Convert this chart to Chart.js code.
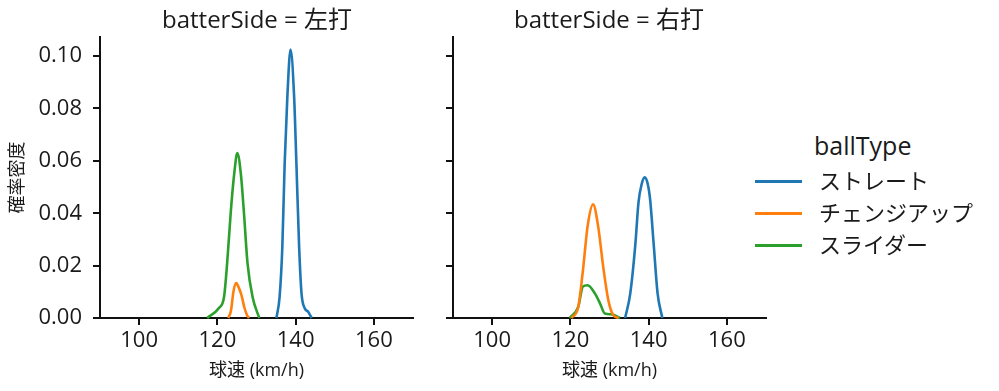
<html>
<head>
<title>batterSide KDE</title>
<style>
body { margin:0; background:#fff; font-family:"Open Sans", "Noto Sans CJK JP", sans-serif; color:#1a1a1a; }
#wrap { position:relative; width:999px; height:391px; overflow:hidden; }
canvas { position:absolute; top:0; }
.ttl { position:absolute; top:3px; width:340px; text-align:center; font-size:24px; line-height:32px; white-space:nowrap; }
.lg { position:absolute; font-size:22px; line-height:30px; white-space:nowrap; }
.sw { position:absolute; width:47px; height:3px; }
</style>
</head>
<body>
<script src="https://cdn.jsdelivr.net/npm/chart.js@4/dist/chart.umd.min.js"></script>

<div id="wrap">
  <canvas id="leftChart" width="430" height="391" style="left:0px"></canvas>
  <canvas id="rightChart" width="350" height="391" style="left:430px"></canvas>
  <div class="ttl" style="left:87px">batterSide = 左打</div>
  <div class="ttl" style="left:439px">batterSide = 右打</div>
  <div id="legend"></div>
</div>

<script type="text/javascript">
// values (x: km/h, y: density)
var pitchTypes = ["ストレート", "チェンジアップ", "スライダー"];
var colors = ["#1f77b4", "#ff7f0e", "#2ca02c"];
var xTicks = [100, 120, 140, 160];
var yTicks = [0, 0.02, 0.04, 0.06, 0.08, 0.10];

var leftStraightX = [135.1, 135.9, 136.6, 137.2, 137.9, 138.7, 139.6, 140.2, 140.9, 141.5, 142.3, 143.2, 144.1];
var leftStraightY = [0, 0.008, 0.027, 0.059, 0.085, 0.1025, 0.085, 0.059, 0.027, 0.0095, 0.0038, 0.0024, 0];
var leftChangeX = [122.8, 123.5, 124.1, 124.8, 125.5, 126.2, 126.9, 127.6, 128.1];
var leftChangeY = [0, 0.003, 0.010, 0.0133, 0.0115, 0.0085, 0.004, 0.001, 0];
var leftSliderX = [117.4, 120.4, 121.7, 122.5, 123.4, 124.3, 125.1, 126.0, 126.8, 127.7, 129.0, 130.7];
var leftSliderY = [0, 0.0038, 0.008, 0.021, 0.040, 0.055, 0.063, 0.055, 0.040, 0.021, 0.008, 0];

var rightStraightX = [134.0, 135.3, 136.6, 137.4, 138.2, 139.0, 139.8, 140.4, 141.3, 142.3, 143.5];
var rightStraightY = [0, 0.0093, 0.028, 0.044, 0.051, 0.0537, 0.051, 0.045, 0.028, 0.0093, 0];
var rightChangeX = [120.3, 122.0, 123.2, 124.4, 125.8, 127.1, 128.4, 129.7, 131.0, 132.3];
var rightChangeY = [0, 0.0042, 0.018, 0.035, 0.0434, 0.035, 0.0195, 0.0068, 0.001, 0];
var rightSliderX = [119.8, 122.0, 123.2, 124.4, 126.3, 127.6, 128.8, 130.6, 132.7];
var rightSliderY = [0, 0.0042, 0.012, 0.0125, 0.0093, 0.0055, 0.0017, 0.0014, 0];

var FONT = "'Open Sans', 'Noto Sans CJK JP', sans-serif";

function pts(xs, ys) {
  return xs.map(function (x, i) { return {x: x, y: ys[i]}; });
}

function makeDatasets(series) {
  return series.map(function (s, i) {
    return {
      label: pitchTypes[i],
      data: pts(s[0], s[1]),
      borderColor: colors[i],
      backgroundColor: colors[i],
      borderWidth: 2.6,
      pointRadius: 0,
      fill: false,
      cubicInterpolationMode: "monotone",
      clip: false
    };
  });
}

function makeChart(id, datasets, isLeft) {
  var ctx = document.getElementById(id).getContext("2d");
  return new Chart(ctx, {
    type: "line",
    data: {datasets: datasets},
    options: {
      responsive: false,
      animation: false,
      layout: {padding: {top: 37, right: isLeft ? 17 : 14, left: 0, bottom: 0}},
      plugins: {legend: {display: false}, tooltip: {enabled: false}},
      scales: {
        x: {
          type: "linear", min: 90, max: 170,
          afterBuildTicks: function (sc) { sc.ticks = xTicks.map(function (v) { return {value: v}; }); },
          afterFit: function (sc) { sc.height = 73; },
          border: {display: true, color: "#111", width: 2},
          grid: {drawOnChartArea: false, drawTicks: true, tickLength: 7, color: "#111", lineWidth: 2},
          ticks: {color: "#1a1a1a", font: {family: FONT, size: 22}, padding: 3, maxRotation: 0},
          title: {display: true, text: "球速 (km/h)", color: "#1a1a1a", font: {family: FONT, size: 18}, padding: {top: 0, bottom: 9}}
        },
        y: {
          type: "linear", min: 0, max: 0.1073,
          afterBuildTicks: function (sc) { sc.ticks = yTicks.map(function (v) { return {value: v}; }); },
          afterFit: function (sc) { sc.width = isLeft ? 100 : 23; },
          border: {display: true, color: "#111", width: 2},
          grid: {drawOnChartArea: false, drawTicks: true, tickLength: 7, color: "#111", lineWidth: 2},
          ticks: {display: isLeft, color: "#1a1a1a", font: {family: FONT, size: 22}, padding: 11,
                  callback: function (v) { return v.toFixed(2); }},
          title: {display: isLeft, text: "確率密度", color: "#1a1a1a", font: {family: FONT, size: 18}, padding: {top: 7, bottom: 0}}
        }
      }
    }
  });
}

makeChart("leftChart", makeDatasets([
  [leftStraightX, leftStraightY], [leftChangeX, leftChangeY], [leftSliderX, leftSliderY]
]), true);
makeChart("rightChart", makeDatasets([
  [rightStraightX, rightStraightY], [rightChangeX, rightChangeY], [rightSliderX, rightSliderY]
]), false);

// legend (html)
var lg = document.getElementById("legend");
var html = '<div class="lg" style="left:814px;top:130px;font-size:25px">ballType</div>';
pitchTypes.forEach(function (name, i) {
  var y = 181 + i * 32;
  html += '<div class="sw" style="left:755px;top:' + (y - 1) + 'px;background:' + colors[i] + '"></div>';
  html += '<div class="lg" style="left:819px;top:' + (y - 16) + 'px">' + name + '</div>';
});
lg.innerHTML = html;
</script>
</body>
</html>
